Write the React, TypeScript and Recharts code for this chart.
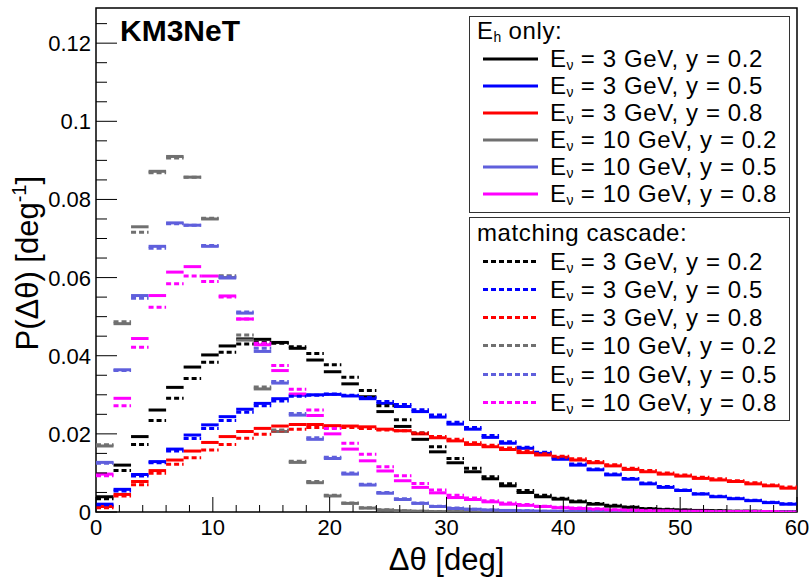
import React from "react";
import { ScatterChart, Scatter, XAxis, YAxis, ReferenceArea, Label } from "recharts";

// ---- data: P(dtheta) per 1.5 deg bin, 40 bins from 0 to 60 deg ----
const BIN_W = 1.5;
const binCenters = Array.from({ length: 40 }, (_, i) => BIN_W * (i + 0.5));

const xTicks = Array.from({ length: 31 }, (_, i) => i * 2);
const yTicks = Array.from({ length: 26 }, (_, i) => +(i * 0.005).toFixed(3));

// E_h only
const eh3y02 = [0.0039, 0.0120, 0.0193, 0.0261, 0.0319, 0.0371, 0.0402, 0.0425, 0.0443, 0.0442, 0.0434, 0.0419, 0.0389, 0.0359, 0.0328, 0.0295, 0.0257, 0.0219, 0.0186, 0.0154, 0.0126, 0.0103, 0.0085, 0.0067, 0.0050, 0.0039, 0.0033, 0.0026, 0.0020, 0.0015, 0.0012, 0.0008, 0.0006, 0.0005, 0.0004, 0.0003, 0.0002, 0.0002, 0.0001, 0.0001];
const eh3y05 = [0.0020, 0.0058, 0.0096, 0.0129, 0.0161, 0.0197, 0.0223, 0.0244, 0.0263, 0.0278, 0.0290, 0.0299, 0.0300, 0.0301, 0.0297, 0.0290, 0.0278, 0.0270, 0.0257, 0.0243, 0.0225, 0.0212, 0.0191, 0.0176, 0.0163, 0.0150, 0.0135, 0.0120, 0.0108, 0.0095, 0.0084, 0.0072, 0.0063, 0.0055, 0.0046, 0.0039, 0.0034, 0.0029, 0.0024, 0.0020];
const eh3y08 = [0.0014, 0.0045, 0.0078, 0.0106, 0.0133, 0.0156, 0.0178, 0.0193, 0.0206, 0.0214, 0.0220, 0.0224, 0.0224, 0.0221, 0.0220, 0.0218, 0.0212, 0.0208, 0.0200, 0.0190, 0.0182, 0.0173, 0.0167, 0.0160, 0.0152, 0.0146, 0.0140, 0.0133, 0.0126, 0.0118, 0.0109, 0.0103, 0.0097, 0.0092, 0.0086, 0.0082, 0.0078, 0.0072, 0.0067, 0.0061];
const eh10y02 = [0.0169, 0.0482, 0.0730, 0.0872, 0.0910, 0.0857, 0.0750, 0.0600, 0.0440, 0.0315, 0.0206, 0.0127, 0.0075, 0.0041, 0.0022, 0.0010, 0.0005, 0.0003, 0.0002, 0.0001, 0.0001, 0, 0, 0, 0, 0, 0, 0, 0, 0, 0, 0, 0, 0, 0, 0, 0, 0, 0, 0];
const eh10y05 = [0.0127, 0.0364, 0.0554, 0.0680, 0.0740, 0.0734, 0.0680, 0.0599, 0.0509, 0.0411, 0.0330, 0.0248, 0.0186, 0.0137, 0.0097, 0.0069, 0.0048, 0.0032, 0.0022, 0.0014, 0.0009, 0.0007, 0.0005, 0.0004, 0.0003, 0.0002, 0.0002, 0.0001, 0.0001, 0.0001, 0, 0, 0, 0, 0, 0, 0, 0, 0, 0];
const eh10y08 = [0.0097, 0.0291, 0.0444, 0.0554, 0.0614, 0.0628, 0.0604, 0.0553, 0.0494, 0.0428, 0.0362, 0.0302, 0.0247, 0.0200, 0.0161, 0.0131, 0.0105, 0.0080, 0.0063, 0.0049, 0.0037, 0.0032, 0.0026, 0.0020, 0.0017, 0.0014, 0.0011, 0.0009, 0.0007, 0.0005, 0.0004, 0.0003, 0.0003, 0.0002, 0.0002, 0.0001, 0.0001, 0.0001, 0.0001, 0];

// matching cascade
const mc3y02 = [0.0034, 0.0106, 0.0173, 0.0234, 0.0291, 0.0342, 0.0383, 0.0409, 0.0430, 0.0434, 0.0432, 0.0423, 0.0406, 0.0377, 0.0345, 0.0311, 0.0272, 0.0236, 0.0202, 0.0167, 0.0137, 0.0112, 0.0090, 0.0072, 0.0055, 0.0043, 0.0035, 0.0028, 0.0022, 0.0017, 0.0013, 0.0009, 0.0007, 0.0005, 0.0004, 0.0003, 0.0002, 0.0002, 0.0001, 0.0001];
const mc3y05 = [0.0016, 0.0054, 0.0092, 0.0126, 0.0156, 0.0188, 0.0214, 0.0234, 0.0255, 0.0272, 0.0284, 0.0296, 0.0299, 0.0302, 0.0299, 0.0293, 0.0283, 0.0275, 0.0262, 0.0248, 0.0230, 0.0216, 0.0196, 0.0180, 0.0166, 0.0153, 0.0138, 0.0123, 0.0110, 0.0097, 0.0086, 0.0074, 0.0065, 0.0056, 0.0047, 0.0040, 0.0035, 0.0030, 0.0025, 0.0021];
const mc3y08 = [0.0011, 0.0041, 0.0070, 0.0099, 0.0122, 0.0139, 0.0159, 0.0173, 0.0189, 0.0199, 0.0208, 0.0212, 0.0216, 0.0217, 0.0216, 0.0214, 0.0210, 0.0208, 0.0202, 0.0193, 0.0186, 0.0177, 0.0171, 0.0164, 0.0156, 0.0149, 0.0143, 0.0136, 0.0129, 0.0121, 0.0112, 0.0106, 0.0100, 0.0095, 0.0089, 0.0085, 0.0080, 0.0075, 0.0069, 0.0064];
const mc10y02 = [0.0172, 0.0487, 0.0716, 0.0868, 0.0906, 0.0857, 0.0752, 0.0605, 0.0453, 0.0320, 0.0210, 0.0130, 0.0078, 0.0043, 0.0023, 0.0011, 0.0006, 0.0003, 0.0002, 0.0001, 0.0001, 0, 0, 0, 0, 0, 0, 0, 0, 0, 0, 0, 0, 0, 0, 0, 0, 0, 0, 0];
const mc10y05 = [0.0125, 0.0362, 0.0547, 0.0675, 0.0738, 0.0734, 0.0682, 0.0602, 0.0512, 0.0419, 0.0334, 0.0252, 0.0190, 0.0140, 0.0100, 0.0071, 0.0050, 0.0034, 0.0023, 0.0015, 0.0010, 0.0007, 0.0005, 0.0004, 0.0003, 0.0002, 0.0002, 0.0001, 0.0001, 0.0001, 0, 0, 0, 0, 0, 0, 0, 0, 0, 0];
const mc10y08 = [0.0093, 0.0272, 0.0422, 0.0524, 0.0584, 0.0604, 0.0590, 0.0550, 0.0494, 0.0432, 0.0375, 0.0314, 0.0261, 0.0214, 0.0176, 0.0148, 0.0116, 0.0093, 0.0073, 0.0056, 0.0043, 0.0036, 0.0029, 0.0023, 0.0019, 0.0015, 0.0012, 0.0010, 0.0008, 0.0006, 0.0005, 0.0004, 0.0003, 0.0002, 0.0002, 0.0001, 0.0001, 0.0001, 0.0001, 0];

const energies = ["3", "3", "3", "10", "10", "10"];
const inelasticities = ["0.2", "0.5", "0.8", "0.2", "0.5", "0.8"];
const colors = ["#000000", "#0000ff", "#ff0000", "#707070", "#5f5fdc", "#ff00ff"];
const ehSeries = [eh3y02, eh3y05, eh3y08, eh10y02, eh10y05, eh10y08];
const mcSeries = [mc3y02, mc3y05, mc3y08, mc10y02, mc10y05, mc10y08];

// ---- layout ----
const W = 810;
const H = 578;
const MARGIN = { top: 8, right: 13, left: 16, bottom: 6 };
const Y_AXIS_W = 80;
const X_AXIS_H = 60;
const PLOT_W = W - MARGIN.left - Y_AXIS_W - MARGIN.right;
const X_MAX = 60;
const Y_MAX = 0.129;
const HALF_BIN_PX = ((BIN_W / 2) * PLOT_W) / X_MAX;
const TICK_GAP = 4;
const FONT = "'Liberation Sans', Arial, Helvetica, sans-serif";
const DASH = "5 3";
const LINE_W = 3;

const toPoints = (vals: number[]) => binCenters.map((x, i) => ({ x, y: vals[i] }));

const barShape = (color: string, dashed: boolean) => (props: any) => {
  const { cx, cy } = props;
  if (cx == null || cy == null) return <g />;
  return (
    <line
      x1={cx - HALF_BIN_PX}
      x2={cx + HALF_BIN_PX}
      y1={cy}
      y2={cy}
      stroke={color}
      strokeWidth={LINE_W}
      strokeDasharray={dashed ? DASH : undefined}
    />
  );
};

const isMultiple = (v: number, step: number) => Math.abs(v / step - Math.round(v / step)) < 1e-6;

function YTick(props: any) {
  const { x, y, payload } = props;
  const v = payload.value;
  const major = isMultiple(v, 0.02);
  const ax = x + TICK_GAP;
  return (
    <g>
      <line x1={ax} x2={ax + (major ? 21 : 11)} y1={y} y2={y} stroke="#000" strokeWidth={1} />
      {major && (
        <text x={ax - 5} y={y} dy="0.36em" textAnchor="end" fontSize={22} fontFamily={FONT} fill="#000">
          {String(+v.toFixed(2))}
        </text>
      )}
    </g>
  );
}

function XTick(props: any) {
  const { x, y, payload } = props;
  const v = payload.value;
  const major = isMultiple(v, 10);
  const ay = y - TICK_GAP;
  return (
    <g>
      <line x1={x} x2={x} y1={ay} y2={ay - (major ? 15 : 7)} stroke="#000" strokeWidth={1} />
      {major && (
        <text x={x} y={ay + 23} textAnchor="middle" fontSize={22} fontFamily={FONT} fill="#000">
          {v}
        </text>
      )}
    </g>
  );
}

function XTitle(props: any) {
  const { viewBox } = props;
  return (
    <text x={viewBox.x + viewBox.width / 2} y={viewBox.y + 58} textAnchor="middle" fontSize={31} fontFamily={FONT} fill="#000">
      Δθ [deg]
    </text>
  );
}

function YTitle(props: any) {
  const { viewBox } = props;
  const cx = 38;
  const cy = viewBox.y + viewBox.height * 0.55 - 22;
  return (
    <text x={cx} y={cy} transform={`rotate(-90 ${cx} ${cy})`} textAnchor="middle" fontSize={31} fontFamily={FONT} fill="#000">
      P(Δθ) [deg<tspan dy={-12} fontSize={20}>-1</tspan>
      <tspan dy={12}>]</tspan>
    </text>
  );
}

const sub = (s: string) => (
  <span style={{ fontSize: "58%", position: "relative", top: "0.22em", lineHeight: 1, letterSpacing: 0 }}>{s}</span>
);

function LegendBox({ top, height, title, rowStart, rowGap, dashed, series }: any) {
  const rowH = Math.floor(rowGap) - 1;
  return (
    <div
      style={{
        position: "absolute",
        left: 469,
        top,
        width: 321,
        height,
        border: "1.5px solid #333",
        boxSizing: "border-box",
        background: "#fff",
        fontFamily: FONT,
        fontSize: 24,
        letterSpacing: "0.6px",
        color: "#000",
      }}
    >
      <div style={{ position: "absolute", left: 7, top: 1, height: rowH, lineHeight: `${rowH}px`, whiteSpace: "nowrap" }}>{title}</div>
      {series.map((_: number[], i: number) => (
        <div key={i} style={{ position: "absolute", left: 0, top: rowStart + rowGap * i - rowH / 2, height: rowH, width: "100%" }}>
          <svg width={60} height={rowH} style={{ position: "absolute", left: 12, top: 0 }}>
            <line x1={1} x2={56} y1={rowH / 2} y2={rowH / 2} stroke={colors[i]} strokeWidth={LINE_W} strokeDasharray={dashed ? DASH : undefined} />
          </svg>
          <div style={{ position: "absolute", left: 80, top: 0, height: rowH, lineHeight: `${rowH}px`, whiteSpace: "nowrap" }}>
            E{sub("ν")} = {energies[i]} GeV, y = {inelasticities[i]}
          </div>
        </div>
      ))}
    </div>
  );
}

export default function App() {
  return (
    <div style={{ position: "absolute", left: 0, top: 0, width: W, height: H, background: "#fff" }}>
      <ScatterChart width={W} height={H} margin={MARGIN}>
        <XAxis
          type="number"
          dataKey="x"
          domain={[0, X_MAX]}
          ticks={xTicks}
          interval={0}
          tick={<XTick />}
          tickLine={false}
          tickSize={0}
          tickMargin={TICK_GAP}
          axisLine={false}
          height={X_AXIS_H}
          allowDataOverflow
        >
          <Label content={<XTitle />} />
        </XAxis>
        <YAxis
          type="number"
          dataKey="y"
          domain={[0, Y_MAX]}
          ticks={yTicks}
          interval={0}
          tick={<YTick />}
          tickLine={false}
          tickSize={0}
          tickMargin={TICK_GAP}
          axisLine={false}
          width={Y_AXIS_W}
          allowDataOverflow
        >
          <Label content={<YTitle />} />
        </YAxis>
        <ReferenceArea x1={0} x2={X_MAX} y1={0} y2={Y_MAX} fill="none" fillOpacity={0} stroke="#000" strokeWidth={1.5} />
        {ehSeries.map((vals, i) => (
          <Scatter key={`eh${i}`} data={toPoints(vals)} shape={barShape(colors[i], false)} isAnimationActive={false} />
        ))}
        {mcSeries.map((vals, i) => (
          <Scatter key={`mc${i}`} data={toPoints(vals)} shape={barShape(colors[i], true)} isAnimationActive={false} />
        ))}
      </ScatterChart>
      <div style={{ position: "absolute", left: 120, top: 14, fontFamily: FONT, fontWeight: "bold", fontSize: 30, lineHeight: "34px" }}>
        KM3NeT
      </div>
      <LegendBox top={16} height={197} title={<>E{sub("h")} only:</>} rowStart={42} rowGap={27} dashed={false} series={ehSeries} />
      <LegendBox top={217} height={204} title={<>matching cascade:</>} rowStart={43} rowGap={28.3} dashed={true} series={mcSeries} />
    </div>
  );
}
